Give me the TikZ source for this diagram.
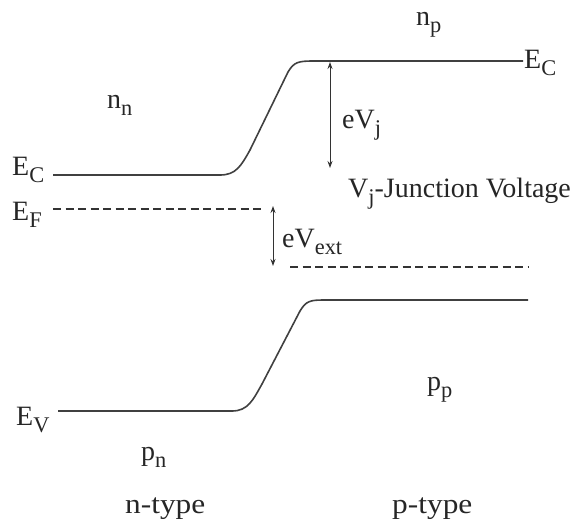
\documentclass[tikz,border=0pt]{standalone}
\usepackage{fontspec}
\setmainfont{Liberation Serif}
\usetikzlibrary{arrows.meta}
\newcommand\lsub[1]{\raisebox{-0.25em}{\scalebox{0.8}{#1}}}
\begin{document}
\begin{tikzpicture}[x=1pt,y=-1pt,
  band/.style={line width=1.6pt,draw=black!75},
  fermi/.style={line width=1.6pt,draw=black!80,dash pattern=on 8pt off 4.5pt},
  dimarrow/.style={line width=1pt,draw=black!80,{Stealth[length=7pt,width=5pt]}-{Stealth[length=7pt,width=5pt]}},
  lbl/.style={font=\fontsize{28}{30}\selectfont,text=black!85,inner sep=0pt},
  typelbl/.style={lbl,xscale=1.12}]
\useasboundingbox (0,0) rectangle (583,523);
% conduction band
\coordinate (ecl) at (53,175);
\coordinate (ecr) at (523,61);
\draw[band] (ecl) -- (220,175) .. controls (236,175) and (241,166) .. (250,150)
  -- (288,72) .. controls (294,62) and (298,61) .. (314,61) -- (ecr);
% valence band
\coordinate (evl) at (58,411);
\coordinate (evr) at (528,300);
\draw[band] (evl) -- (232,411) .. controls (248,411) and (253,400) .. (262,384)
  -- (300,311) .. controls (306,301) and (310,300) .. (324,300) -- (evr);
% Fermi levels
\coordinate (efl1) at (53,209);
\coordinate (efl2) at (262,209);
\coordinate (efr1) at (290,267);
\coordinate (efr2) at (528,267);
\draw[fermi] (efl1) -- (efl2);
\draw[fermi] (efr1) -- (efr2);
% arrows
\coordinate (vjt) at (330,62);
\coordinate (vjb) at (330,168);
\draw[dimarrow] (vjt) -- (vjb);
\coordinate (vet) at (273,206);
\coordinate (veb) at (273,266);
\draw[dimarrow] (vet) -- (veb);
% labels
\node[lbl,anchor=base west] (lec) at (12,175) {E\lsub{C}};
\node[lbl,anchor=base west] (lef) at (12,220) {E\lsub{F}};
\node[lbl,anchor=base west] (lev) at (16,425) {E\lsub{V}};
\node[lbl,anchor=base west] (rec) at (524,68) {E\lsub{C}};
\node[lbl,anchor=base west] (evj) at (342,128) {eV\lsub{j}};
\node[lbl,anchor=base west] (vjl) at (348,197) {V\lsub{j}-Junction Voltage};
\node[lbl,anchor=base west] (evx) at (282,247) {eV\lsub{ext}};
\node[lbl,anchor=base west] (nn) at (107,108) {n\lsub{n}};
\node[lbl,anchor=base west] (np) at (416,25) {n\lsub{p}};
\node[lbl,anchor=base west] (pp) at (427,390) {p\lsub{p}};
\node[lbl,anchor=base west] (pn) at (141,460) {p\lsub{n}};
\node[typelbl,anchor=base west] (nt) at (125,513) {n-type};
\node[typelbl,anchor=base west] (pt) at (392,513) {p-type};
\end{tikzpicture}
\end{document}
